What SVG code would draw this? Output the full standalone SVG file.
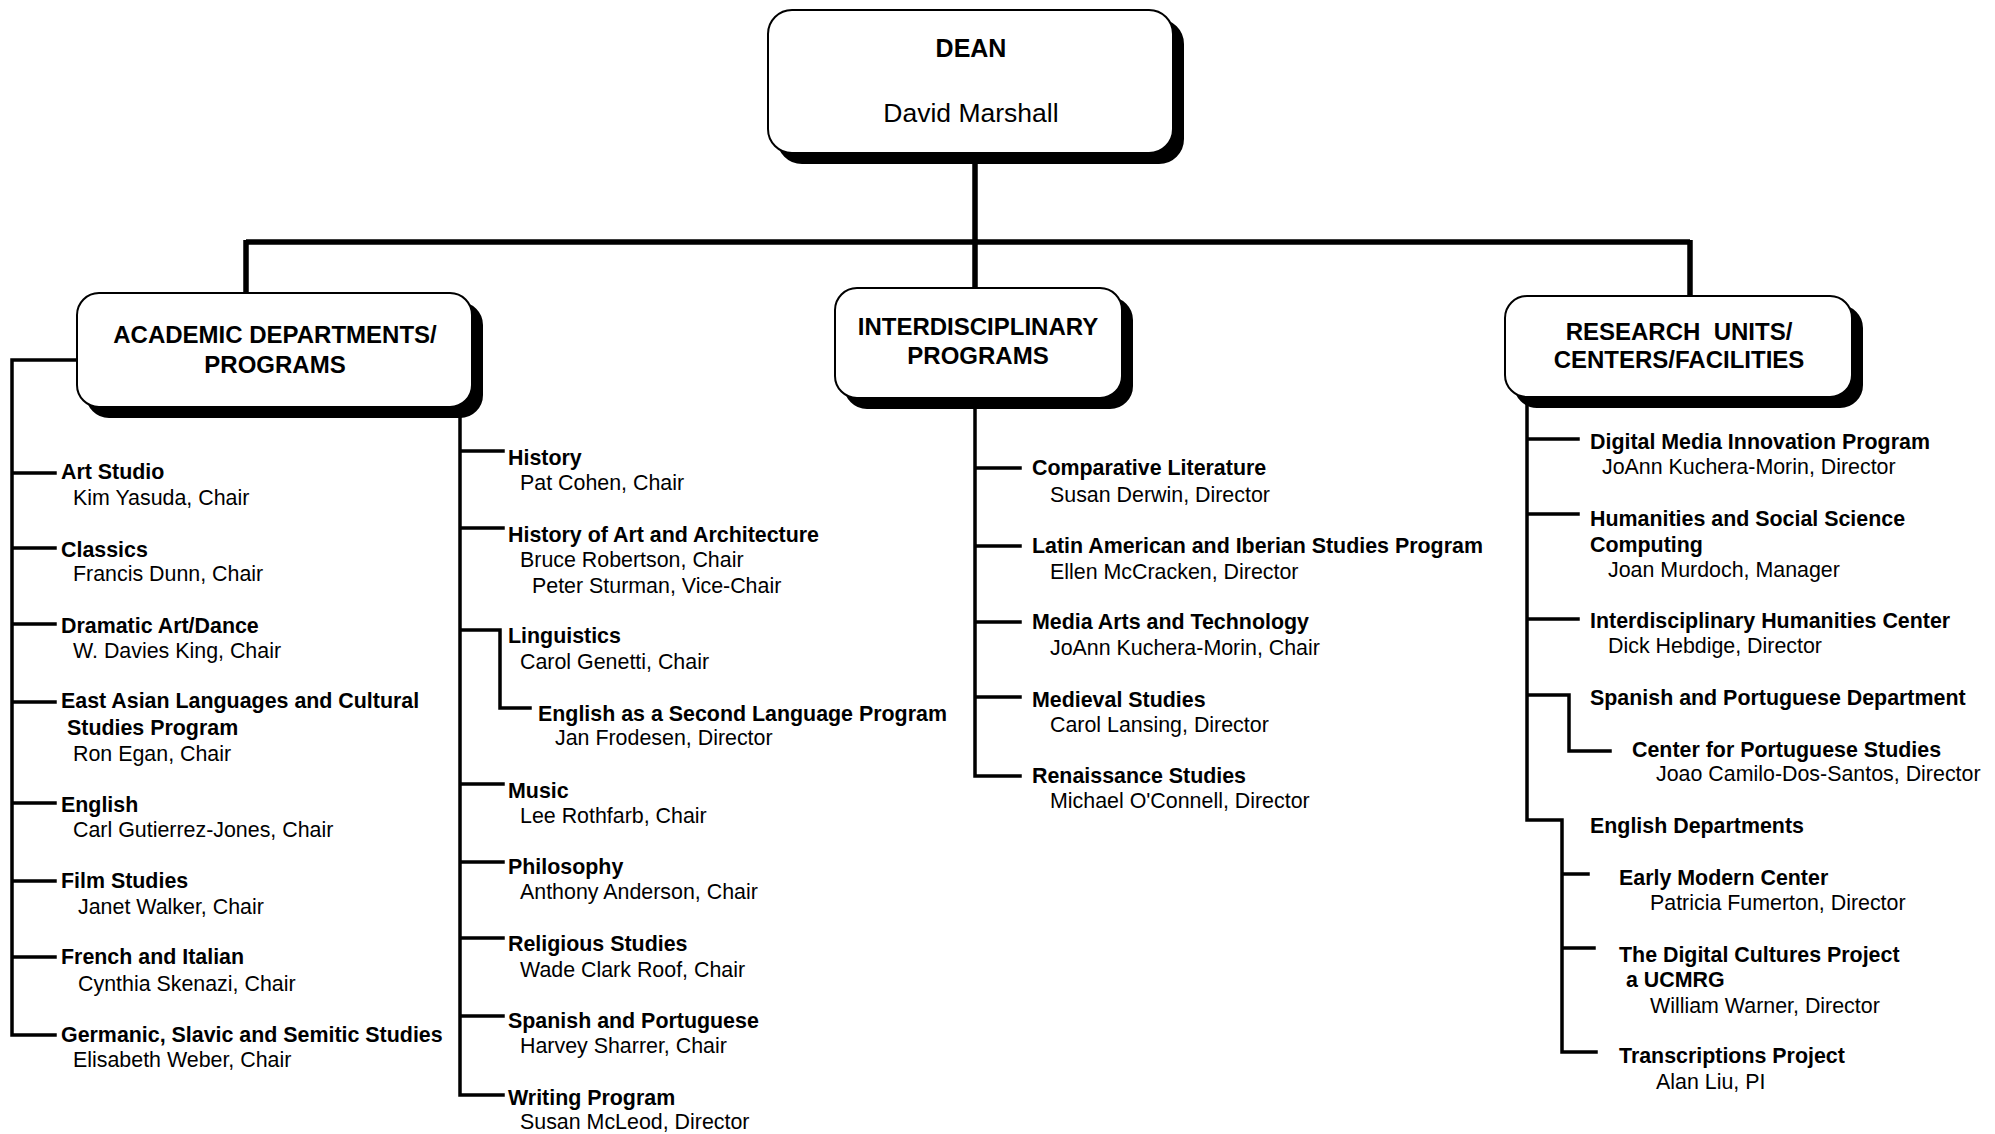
<svg xmlns="http://www.w3.org/2000/svg" width="1995" height="1134" viewBox="0 0 1995 1134">
<style>
text{font-family:"Liberation Sans",Arial,Helvetica,sans-serif;fill:#000}
.t{font-size:21.4px;font-weight:bold}
.s{font-size:21.4px}
.h{font-size:24px;font-weight:bold;text-anchor:middle}
.box{fill:#fff;stroke:#000;stroke-width:2}
.sh{fill:#000;stroke:#000;stroke-width:2}
.c{fill:none;stroke:#000;stroke-width:3.5;stroke-linecap:square}
.k{fill:none;stroke:#000;stroke-width:5.5}
</style>
<rect width="1995" height="1134" fill="#fff"/>
<g id="connectors">
<path class="k" d="M975,155 V242 M246,242 H1690 M246,240 V295 M975,240 V290 M1690,240 V298"/>
<path class="c" d="M77,360 H12 V1035 H55 M12,473 H55 M12,548 H55 M12,624 H55 M12,702 H55 M12,803 H55 M12,881 H55 M12,957 H55"/>
<path class="c" d="M460,412 V1095 H503 M460,451 H503 M460,528 H503 M460,630 H500 V708 H530 M460,784 H503 M460,862 H503 M460,938 H503 M460,1016 H503"/>
<path class="c" d="M975,400 V776 H1020 M975,468 H1020 M975,546 H1020 M975,622 H1020 M975,697 H1020"/>
<path class="c" d="M1527,400 V820 H1562 V1052 H1596 M1527,439 H1578 M1527,514 H1578 M1527,619 H1578 M1527,695 H1569 V751 H1610 M1562,874 H1588 M1562,948 H1594"/>
</g>
<g id="dean">
<rect class="sh" x="778" y="20" width="405" height="143" rx="24"/>
<rect class="box" x="768" y="10" width="405" height="143" rx="24"/>
<text class="h" x="971" y="57" style="font-size:25px">DEAN</text>
<text x="971" y="122" text-anchor="middle" style="font-size:26.5px">David Marshall</text>
</g>
<g id="academic">
<rect class="sh" x="87" y="303" width="395" height="114" rx="22"/>
<rect class="box" x="77" y="293" width="395" height="114" rx="22"/>
<text class="h" x="275" y="343">ACADEMIC DEPARTMENTS/</text>
<text class="h" x="275" y="373">PROGRAMS</text>
</g>
<g id="interdisciplinary">
<rect class="sh" x="845" y="298" width="287" height="110" rx="22"/>
<rect class="box" x="835" y="288" width="287" height="110" rx="22"/>
<text class="h" x="978" y="335">INTERDISCIPLINARY</text>
<text class="h" x="978" y="364">PROGRAMS</text>
</g>
<g id="research">
<rect class="sh" x="1515" y="306" width="347" height="101" rx="22"/>
<rect class="box" x="1505" y="296" width="347" height="101" rx="22"/>
<text class="h" x="1679" y="340" xml:space="preserve">RESEARCH  UNITS/</text>
<text class="h" x="1679" y="368">CENTERS/FACILITIES</text>
</g>
<g id="art-studio"><text class="t" x="61" y="479">Art Studio</text><text class="s" x="73" y="505">Kim Yasuda, Chair</text></g>
<g id="classics"><text class="t" x="61" y="557">Classics</text><text class="s" x="73" y="581">Francis Dunn, Chair</text></g>
<g id="dramatic"><text class="t" x="61" y="633">Dramatic Art/Dance</text><text class="s" x="73" y="658">W. Davies King, Chair</text></g>
<g id="east-asian"><text class="t" x="61" y="708">East Asian Languages and Cultural</text><text class="t" x="67" y="735">Studies Program</text><text class="s" x="73" y="761">Ron Egan, Chair</text></g>
<g id="english"><text class="t" x="61" y="812">English</text><text class="s" x="73" y="837">Carl Gutierrez-Jones, Chair</text></g>
<g id="film"><text class="t" x="61" y="888">Film Studies</text><text class="s" x="78" y="914">Janet Walker, Chair</text></g>
<g id="french"><text class="t" x="61" y="964">French and Italian</text><text class="s" x="78" y="991">Cynthia Skenazi, Chair</text></g>
<g id="germanic"><text class="t" x="61" y="1042">Germanic, Slavic and Semitic Studies</text><text class="s" x="73" y="1067">Elisabeth Weber, Chair</text></g>
<g id="history"><text class="t" x="508" y="465">History</text><text class="s" x="520" y="490">Pat Cohen, Chair</text></g>
<g id="history-art"><text class="t" x="508" y="542">History of Art and Architecture</text><text class="s" x="520" y="567">Bruce Robertson, Chair</text><text class="s" x="532" y="593">Peter Sturman, Vice-Chair</text></g>
<g id="linguistics"><text class="t" x="508" y="643">Linguistics</text><text class="s" x="520" y="669">Carol Genetti, Chair</text></g>
<g id="esl"><text class="t" x="538" y="721">English as a Second Language Program</text><text class="s" x="555" y="745">Jan Frodesen, Director</text></g>
<g id="music"><text class="t" x="508" y="798">Music</text><text class="s" x="520" y="823">Lee Rothfarb, Chair</text></g>
<g id="philosophy"><text class="t" x="508" y="874">Philosophy</text><text class="s" x="520" y="899">Anthony Anderson, Chair</text></g>
<g id="religious"><text class="t" x="508" y="951">Religious Studies</text><text class="s" x="520" y="977">Wade Clark Roof, Chair</text></g>
<g id="spanish-portuguese"><text class="t" x="508" y="1028">Spanish and Portuguese</text><text class="s" x="520" y="1053">Harvey Sharrer, Chair</text></g>
<g id="writing"><text class="t" x="508" y="1105">Writing Program</text><text class="s" x="520" y="1129">Susan McLeod, Director</text></g>
<g id="comp-lit"><text class="t" x="1032" y="475">Comparative Literature</text><text class="s" x="1050" y="502">Susan Derwin, Director</text></g>
<g id="latin-american"><text class="t" x="1032" y="553">Latin American and Iberian Studies Program</text><text class="s" x="1050" y="579">Ellen McCracken, Director</text></g>
<g id="media-arts"><text class="t" x="1032" y="629">Media Arts and Technology</text><text class="s" x="1050" y="655">JoAnn Kuchera-Morin, Chair</text></g>
<g id="medieval"><text class="t" x="1032" y="707">Medieval Studies</text><text class="s" x="1050" y="732">Carol Lansing, Director</text></g>
<g id="renaissance"><text class="t" x="1032" y="783">Renaissance Studies</text><text class="s" x="1050" y="808">Michael O'Connell, Director</text></g>
<g id="digital-media"><text class="t" x="1590" y="449">Digital Media Innovation Program</text><text class="s" x="1602" y="474">JoAnn Kuchera-Morin, Director</text></g>
<g id="hssc"><text class="t" x="1590" y="526">Humanities and Social Science</text><text class="t" x="1590" y="552">Computing</text><text class="s" x="1608" y="577">Joan Murdoch, Manager</text></g>
<g id="ihc"><text class="t" x="1590" y="628">Interdisciplinary Humanities Center</text><text class="s" x="1608" y="653">Dick Hebdige, Director</text></g>
<g id="spanish-dept"><text class="t" x="1590" y="705">Spanish and Portuguese Department</text></g>
<g id="portuguese-center"><text class="t" x="1632" y="757">Center for Portuguese Studies</text><text class="s" x="1656" y="781">Joao Camilo-Dos-Santos, Director</text></g>
<g id="english-depts"><text class="t" x="1590" y="833">English Departments</text></g>
<g id="early-modern"><text class="t" x="1619" y="885">Early Modern Center</text><text class="s" x="1650" y="910">Patricia Fumerton, Director</text></g>
<g id="digital-cultures"><text class="t" x="1619" y="962">The Digital Cultures Project</text><text class="t" x="1626" y="987">a UCMRG</text><text class="s" x="1650" y="1013">William Warner, Director</text></g>
<g id="transcriptions"><text class="t" x="1619" y="1063">Transcriptions Project</text><text class="s" x="1656" y="1089">Alan Liu, PI</text></g>
</svg>
